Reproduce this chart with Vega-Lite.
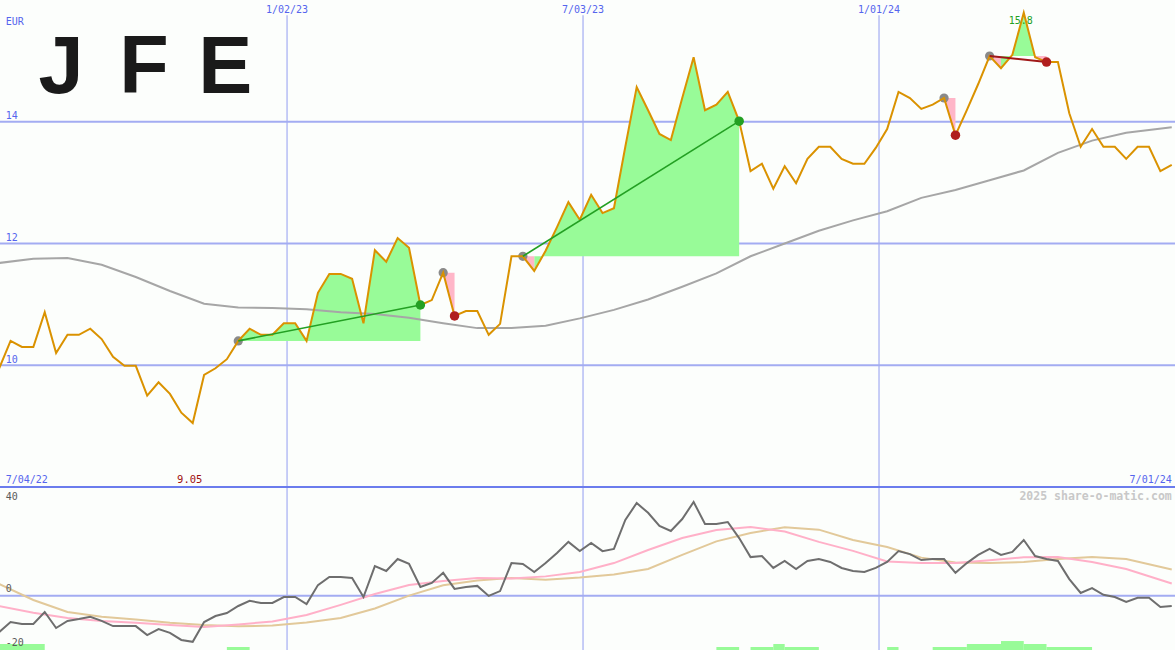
{
"$schema": "https://vega.github.io/schema/vega-lite/v6.json",
"background": "#fcfefc",
"padding": 0,
"spacing": 0,
"bounds": "flush",
"config": {"view": {"stroke": null}, "text": {"font": "DejaVu Sans Mono", "fontSize": 10}},
"datasets": {
"w": [
{"d":"2022-07-09","p":9.95,"o":-13.4},{"d":"2022-07-16","p":10.40,"o":-9.7},{"d":"2022-07-23","p":10.30,"o":-10.4},{"d":"2022-07-30","p":10.30,"o":-10.4},
{"d":"2022-08-06","p":10.87,"o":-6.0},{"d":"2022-08-13","p":10.20,"o":-11.9},{"d":"2022-08-20","p":10.50,"o":-9.3},{"d":"2022-08-27","p":10.50,"o":-8.6},
{"d":"2022-09-03","p":10.60,"o":-7.8},{"d":"2022-09-10","p":10.43,"o":-9.3},{"d":"2022-09-17","p":10.14,"o":-11.2},{"d":"2022-09-24","p":9.99,"o":-11.2},
{"d":"2022-10-01","p":9.99,"o":-11.2},{"d":"2022-10-08","p":9.50,"o":-14.5},{"d":"2022-10-15","p":9.72,"o":-12.3},{"d":"2022-10-22","p":9.53,"o":-13.7},
{"d":"2022-10-29","p":9.22,"o":-16.3},{"d":"2022-11-05","p":9.05,"o":-17.0},{"d":"2022-11-12","p":9.84,"o":-9.7},{"d":"2022-11-19","p":9.95,"o":-7.5},
{"d":"2022-11-26","p":10.10,"o":-6.4},{"d":"2022-12-03","p":10.40,"o":-3.8},{"d":"2022-12-10","p":10.60,"o":-1.9},{"d":"2022-12-17","p":10.50,"o":-2.7},
{"d":"2022-12-24","p":10.50,"o":-2.7},{"d":"2022-12-31","p":10.69,"o":-0.5},{"d":"2023-01-07","p":10.69,"o":-0.5},{"d":"2023-01-14","p":10.40,"o":-3.1},
{"d":"2023-01-21","p":11.19,"o":3.9},{"d":"2023-01-28","p":11.50,"o":6.9},{"d":"2023-02-04","p":11.50,"o":6.9},{"d":"2023-02-11","p":11.42,"o":6.5},
{"d":"2023-02-18","p":10.69,"o":-0.5},{"d":"2023-02-25","p":11.89,"o":10.9},{"d":"2023-03-04","p":11.70,"o":9.1},{"d":"2023-03-11","p":12.09,"o":13.5},
{"d":"2023-03-18","p":11.93,"o":11.7},{"d":"2023-03-25","p":10.99,"o":3.2},{"d":"2023-04-01","p":11.07,"o":4.7},{"d":"2023-04-08","p":11.52,"o":8.4},
{"d":"2023-04-15","p":10.81,"o":2.5},{"d":"2023-04-22","p":10.89,"o":3.2},{"d":"2023-04-29","p":10.89,"o":3.6},{"d":"2023-05-06","p":10.50,"o":-0.1},
{"d":"2023-05-13","p":10.68,"o":1.7},{"d":"2023-05-20","p":11.79,"o":12.0},{"d":"2023-05-27","p":11.79,"o":11.7},{"d":"2023-06-03","p":11.55,"o":8.7},
{"d":"2023-06-10","p":11.88,"o":12.0},{"d":"2023-06-17","p":12.27,"o":15.7},{"d":"2023-06-24","p":12.68,"o":19.8},{"d":"2023-07-01","p":12.39,"o":16.4},
{"d":"2023-07-08","p":12.80,"o":19.4},{"d":"2023-07-15","p":12.50,"o":16.4},{"d":"2023-07-22","p":12.58,"o":17.2},{"d":"2023-07-29","p":13.59,"o":27.9},
{"d":"2023-08-05","p":14.57,"o":34.1},{"d":"2023-08-12","p":14.19,"o":30.5},{"d":"2023-08-19","p":13.80,"o":25.7},{"d":"2023-08-26","p":13.70,"o":23.8},
{"d":"2023-09-02","p":14.39,"o":28.2},{"d":"2023-09-09","p":15.06,"o":34.5},{"d":"2023-09-16","p":14.19,"o":26.4},{"d":"2023-09-23","p":14.28,"o":26.4},
{"d":"2023-09-30","p":14.49,"o":27.1},{"d":"2023-10-07","p":14.01,"o":21.2},{"d":"2023-10-14","p":13.19,"o":14.2},{"d":"2023-10-21","p":13.31,"o":14.6},
{"d":"2023-10-28","p":12.90,"o":10.2},{"d":"2023-11-04","p":13.27,"o":12.8},{"d":"2023-11-11","p":12.99,"o":9.8},{"d":"2023-11-18","p":13.39,"o":12.8},
{"d":"2023-11-25","p":13.59,"o":13.5},{"d":"2023-12-02","p":13.59,"o":12.4},{"d":"2023-12-09","p":13.39,"o":10.2},{"d":"2023-12-16","p":13.31,"o":9.1},
{"d":"2023-12-23","p":13.31,"o":8.7},{"d":"2023-12-30","p":13.57,"o":10.2},{"d":"2024-01-06","p":13.88,"o":12.4},{"d":"2024-01-13","p":14.49,"o":16.4},
{"d":"2024-01-20","p":14.39,"o":15.3},{"d":"2024-01-27","p":14.21,"o":13.1},{"d":"2024-02-03","p":14.28,"o":13.5},{"d":"2024-02-10","p":14.39,"o":13.5},
{"d":"2024-02-17","p":13.78,"o":8.4},{"d":"2024-02-24","p":14.19,"o":12.0},{"d":"2024-03-02","p":14.62,"o":15.0},{"d":"2024-03-09","p":15.08,"o":17.2},
{"d":"2024-03-16","p":14.88,"o":15.0},{"d":"2024-03-23","p":15.10,"o":16.1},{"d":"2024-03-30","p":15.79,"o":20.5},{"d":"2024-04-06","p":15.06,"o":14.6},
{"d":"2024-04-13","p":14.98,"o":13.5},{"d":"2024-04-20","p":14.98,"o":12.8},{"d":"2024-04-27","p":14.14,"o":6.1},{"d":"2024-05-04","p":13.59,"o":1.0},
{"d":"2024-05-11","p":13.88,"o":2.8},{"d":"2024-05-18","p":13.59,"o":0.3},{"d":"2024-05-25","p":13.59,"o":-0.5},{"d":"2024-06-01","p":13.39,"o":-2.3},
{"d":"2024-06-08","p":13.59,"o":-0.8},{"d":"2024-06-15","p":13.59,"o":-0.8},{"d":"2024-06-22","p":13.19,"o":-4.2},{"d":"2024-06-29","p":13.29,"o":-3.8}
],
"ma": [
{"d":"2022-07-09","v":11.68},{"d":"2022-07-30","v":11.75},{"d":"2022-08-20","v":11.76},{"d":"2022-09-10","v":11.65},{"d":"2022-10-01","v":11.45},
{"d":"2022-10-22","v":11.22},{"d":"2022-11-12","v":11.01},{"d":"2022-12-03","v":10.95},{"d":"2022-12-24","v":10.94},{"d":"2023-01-14","v":10.92},
{"d":"2023-02-04","v":10.87},{"d":"2023-02-25","v":10.84},{"d":"2023-03-18","v":10.78},{"d":"2023-04-08","v":10.69},{"d":"2023-04-29","v":10.61},
{"d":"2023-05-20","v":10.61},{"d":"2023-06-10","v":10.65},{"d":"2023-07-01","v":10.77},{"d":"2023-07-22","v":10.91},{"d":"2023-08-12","v":11.08},
{"d":"2023-09-02","v":11.29},{"d":"2023-09-23","v":11.51},{"d":"2023-10-14","v":11.79},{"d":"2023-11-04","v":12.00},{"d":"2023-11-25","v":12.21},
{"d":"2023-12-16","v":12.38},{"d":"2024-01-06","v":12.53},{"d":"2024-01-27","v":12.75},{"d":"2024-02-17","v":12.88},{"d":"2024-03-09","v":13.04},
{"d":"2024-03-30","v":13.20},{"d":"2024-04-20","v":13.49},{"d":"2024-05-11","v":13.69},{"d":"2024-06-01","v":13.82},{"d":"2024-06-29","v":13.91}
],
"pk": [
{"d":"2022-07-09","v":-3.8},{"d":"2022-07-30","v":-6.3},{"d":"2022-08-20","v":-8.2},{"d":"2022-09-10","v":-9.3},{"d":"2022-10-01","v":-10.0},
{"d":"2022-10-22","v":-10.8},{"d":"2022-11-12","v":-11.5},{"d":"2022-12-03","v":-10.6},{"d":"2022-12-24","v":-9.5},{"d":"2023-01-14","v":-7.1},
{"d":"2023-02-04","v":-3.4},{"d":"2023-02-25","v":0.6},{"d":"2023-03-18","v":3.9},{"d":"2023-04-08","v":5.4},{"d":"2023-04-29","v":6.5},
{"d":"2023-05-20","v":6.3},{"d":"2023-06-10","v":7.1},{"d":"2023-07-01","v":8.7},{"d":"2023-07-22","v":12.0},{"d":"2023-08-12","v":16.8},
{"d":"2023-09-02","v":21.2},{"d":"2023-09-23","v":24.2},{"d":"2023-10-14","v":25.3},{"d":"2023-11-04","v":23.6},{"d":"2023-11-25","v":19.8},
{"d":"2023-12-16","v":16.5},{"d":"2024-01-06","v":12.6},{"d":"2024-01-27","v":12.0},{"d":"2024-02-17","v":12.0},{"d":"2024-03-09","v":13.0},
{"d":"2024-03-30","v":14.1},{"d":"2024-04-20","v":14.2},{"d":"2024-05-11","v":12.4},{"d":"2024-06-01","v":9.8},{"d":"2024-06-29","v":4.5}
],
"tn": [
{"d":"2022-07-09","v":4.3},{"d":"2022-07-30","v":-1.6},{"d":"2022-08-20","v":-6.0},{"d":"2022-09-10","v":-7.8},{"d":"2022-10-01","v":-8.8},
{"d":"2022-10-22","v":-10.0},{"d":"2022-11-12","v":-10.8},{"d":"2022-12-03","v":-11.3},{"d":"2022-12-24","v":-11.0},{"d":"2023-01-14","v":-9.9},
{"d":"2023-02-04","v":-8.2},{"d":"2023-02-25","v":-4.7},{"d":"2023-03-18","v":0.0},{"d":"2023-04-08","v":3.8},{"d":"2023-04-29","v":5.6},
{"d":"2023-05-20","v":6.5},{"d":"2023-06-10","v":5.9},{"d":"2023-07-01","v":6.7},{"d":"2023-07-22","v":7.8},{"d":"2023-08-12","v":9.8},
{"d":"2023-09-02","v":15.0},{"d":"2023-09-23","v":20.0},{"d":"2023-10-14","v":23.1},{"d":"2023-11-04","v":25.2},{"d":"2023-11-25","v":24.3},
{"d":"2023-12-16","v":20.5},{"d":"2024-01-06","v":17.9},{"d":"2024-01-27","v":14.0},{"d":"2024-02-17","v":12.2},{"d":"2024-03-09","v":12.0},
{"d":"2024-03-30","v":12.4},{"d":"2024-04-20","v":13.5},{"d":"2024-05-11","v":14.2},{"d":"2024-06-01","v":13.5},{"d":"2024-06-29","v":9.6}
],
"fills": [
{"g":"F1","c":"up","d":"2022-12-03","y":10.40,"b":10.40},{"g":"F1","c":"up","d":"2022-12-10","y":10.60,"b":10.40},{"g":"F1","c":"up","d":"2022-12-17","y":10.50,"b":10.40},
{"g":"F1","c":"up","d":"2022-12-24","y":10.50,"b":10.40},{"g":"F1","c":"up","d":"2022-12-31","y":10.69,"b":10.40},{"g":"F1","c":"up","d":"2023-01-07","y":10.69,"b":10.40},
{"g":"F1","c":"up","d":"2023-01-14","y":10.40,"b":10.40},{"g":"F1","c":"up","d":"2023-01-21","y":11.19,"b":10.40},{"g":"F1","c":"up","d":"2023-01-28","y":11.50,"b":10.40},
{"g":"F1","c":"up","d":"2023-02-04","y":11.50,"b":10.40},{"g":"F1","c":"up","d":"2023-02-11","y":11.42,"b":10.40},{"g":"F1","c":"up","d":"2023-02-18","y":10.69,"b":10.40},
{"g":"F1","c":"up","d":"2023-02-25","y":11.89,"b":10.40},{"g":"F1","c":"up","d":"2023-03-04","y":11.70,"b":10.40},{"g":"F1","c":"up","d":"2023-03-11","y":12.09,"b":10.40},
{"g":"F1","c":"up","d":"2023-03-18","y":11.93,"b":10.40},{"g":"F1","c":"up","d":"2023-03-25","y":10.99,"b":10.40},
{"g":"F2","c":"down","d":"2023-04-08","y":11.52,"b":11.52},{"g":"F2","c":"down","d":"2023-04-15","y":10.81,"b":11.52},
{"g":"F3a","c":"down","d":"2023-05-27","y":11.79,"b":11.79},{"g":"F3a","c":"down","d":"2023-06-03","y":11.55,"b":11.79},
{"g":"F3b","c":"up","d":"2023-06-03","y":11.55,"b":11.79},{"g":"F3b","c":"up","d":"2023-06-10","y":11.88,"b":11.79},{"g":"F3b","c":"up","d":"2023-06-17","y":12.27,"b":11.79},
{"g":"F3b","c":"up","d":"2023-06-24","y":12.68,"b":11.79},{"g":"F3b","c":"up","d":"2023-07-01","y":12.39,"b":11.79},{"g":"F3b","c":"up","d":"2023-07-08","y":12.80,"b":11.79},
{"g":"F3b","c":"up","d":"2023-07-15","y":12.50,"b":11.79},{"g":"F3b","c":"up","d":"2023-07-22","y":12.58,"b":11.79},{"g":"F3b","c":"up","d":"2023-07-29","y":13.59,"b":11.79},
{"g":"F3b","c":"up","d":"2023-08-05","y":14.57,"b":11.79},{"g":"F3b","c":"up","d":"2023-08-12","y":14.19,"b":11.79},{"g":"F3b","c":"up","d":"2023-08-19","y":13.80,"b":11.79},
{"g":"F3b","c":"up","d":"2023-08-26","y":13.70,"b":11.79},{"g":"F3b","c":"up","d":"2023-09-02","y":14.39,"b":11.79},{"g":"F3b","c":"up","d":"2023-09-09","y":15.06,"b":11.79},
{"g":"F3b","c":"up","d":"2023-09-16","y":14.19,"b":11.79},{"g":"F3b","c":"up","d":"2023-09-23","y":14.28,"b":11.79},{"g":"F3b","c":"up","d":"2023-09-30","y":14.49,"b":11.79},
{"g":"F3b","c":"up","d":"2023-10-07","y":14.01,"b":11.79},
{"g":"F4","c":"down","d":"2024-02-10","y":14.39,"b":14.39},{"g":"F4","c":"down","d":"2024-02-17","y":13.78,"b":14.39},
{"g":"F5a","c":"down","d":"2024-03-09","y":15.08,"b":15.08},{"g":"F5a","c":"down","d":"2024-03-16","y":14.88,"b":15.08},
{"g":"F5b","c":"up","d":"2024-03-16","y":14.88,"b":15.08},{"g":"F5b","c":"up","d":"2024-03-23","y":15.10,"b":15.08},{"g":"F5b","c":"up","d":"2024-03-30","y":15.79,"b":15.08},
{"g":"F5b","c":"up","d":"2024-04-06","y":15.06,"b":15.08},
{"g":"F5c","c":"down","d":"2024-04-06","y":15.06,"b":15.08},{"g":"F5c","c":"down","d":"2024-04-13","y":14.98,"b":15.08}
],
"trend": [
{"g":"T1","c":"up","d":"2022-12-03","v":10.40},{"g":"T1","c":"up","d":"2023-03-25","v":10.99},
{"g":"T3","c":"up","d":"2023-05-27","v":11.79},{"g":"T3","c":"up","d":"2023-10-07","v":14.01},
{"g":"T5","c":"down","d":"2024-03-09","v":15.08},{"g":"T5","c":"down","d":"2024-04-13","v":14.98}
],
"dots": [
{"k":"start","d":"2022-12-03","v":10.40},{"k":"start","d":"2023-04-08","v":11.52},{"k":"start","d":"2023-05-27","v":11.79},
{"k":"start","d":"2024-02-10","v":14.39},{"k":"start","d":"2024-03-09","v":15.08},
{"k":"up","d":"2023-03-25","v":10.99},{"k":"up","d":"2023-10-07","v":14.01},
{"k":"down","d":"2023-04-15","v":10.81},{"k":"down","d":"2024-02-17","v":13.78},{"k":"down","d":"2024-04-13","v":14.98}
],
"vol": [
{"d":"2022-07-09","d2":"2022-08-06","h":-17.8},{"d":"2022-11-26","d2":"2022-12-10","h":-18.9},
{"d":"2023-09-23","d2":"2023-10-07","h":-18.9},{"d":"2023-10-14","d2":"2023-10-28","h":-18.9},
{"d":"2023-10-28","d2":"2023-11-04","h":-17.8},{"d":"2023-11-04","d2":"2023-11-25","h":-18.9},
{"d":"2024-01-06","d2":"2024-01-13","h":-18.9},{"d":"2024-02-03","d2":"2024-02-24","h":-18.9},
{"d":"2024-02-24","d2":"2024-03-16","h":-17.8},{"d":"2024-03-16","d2":"2024-03-30","h":-16.7},
{"d":"2024-03-30","d2":"2024-04-13","h":-17.8},{"d":"2024-04-13","d2":"2024-05-11","h":-18.9}
],
"hg": [{"v":10},{"v":12},{"v":14}],
"vg": [{"d":"2023-01-02","lab":"1/02/23"},{"d":"2023-07-03","lab":"7/03/23"},{"d":"2024-01-01","lab":"1/01/24"}],
"one": [{"n":1}]
},
"vconcat": [
{
"width": 1175, "height": 487,
"layer": [
{"data":{"name":"hg"},"mark":{"type":"rule","color":"#a3acf2","strokeWidth":2,"clip":true},
 "encoding":{"y":{"field":"v","type":"quantitative","scale":{"domain":[8,16],"nice":false,"zero":false},"axis":null}}},
{"data":{"name":"vg"},"mark":{"type":"rule","color":"#a3acf2","strokeWidth":1.2,"clip":true},
 "encoding":{"x":{"field":"d","type":"temporal","scale":{"type":"utc","domain":[{"year":2022,"month":7,"date":9,"hours":12,"utc":true},{"year":2024,"month":7,"date":1,"utc":true}]},"axis":null},
  "y":{"datum":15.75,"type":"quantitative","scale":{"domain":[8,16],"nice":false,"zero":false},"axis":null},"y2":{"datum":8}}},
{"data":{"name":"fills"},"transform":[{"filter":"datum.c === 'up'"}],"mark":{"type":"area","color":"#98fb98","opacity":1,"clip":true},
 "encoding":{"x":{"field":"d","type":"temporal","scale":{"type":"utc","domain":[{"year":2022,"month":7,"date":9,"hours":12,"utc":true},{"year":2024,"month":7,"date":1,"utc":true}]},"axis":null},
  "y":{"field":"y","type":"quantitative","scale":{"domain":[8,16],"nice":false,"zero":false},"axis":null},"y2":{"field":"b"},"detail":{"field":"g"}}},
{"data":{"name":"fills"},"transform":[{"filter":"datum.c === 'down'"}],"mark":{"type":"area","color":"#ffb6c8","opacity":1,"clip":true},
 "encoding":{"x":{"field":"d","type":"temporal","scale":{"type":"utc","domain":[{"year":2022,"month":7,"date":9,"hours":12,"utc":true},{"year":2024,"month":7,"date":1,"utc":true}]},"axis":null},
  "y":{"field":"y","type":"quantitative","scale":{"domain":[8,16],"nice":false,"zero":false},"axis":null},"y2":{"field":"b"},"detail":{"field":"g"}}},
{"data":{"name":"ma"},"mark":{"type":"line","color":"#a6a6a6","strokeWidth":2,"clip":true},
 "encoding":{"x":{"field":"d","type":"temporal","scale":{"type":"utc","domain":[{"year":2022,"month":7,"date":9,"hours":12,"utc":true},{"year":2024,"month":7,"date":1,"utc":true}]},"axis":null},
  "y":{"field":"v","type":"quantitative","scale":{"domain":[8,16],"nice":false,"zero":false},"axis":null}}},
{"data":{"name":"dots"},"transform":[{"filter":"datum.k === 'start'"}],"mark":{"type":"circle","color":"#8a8a8a","size":85,"opacity":1,"clip":true},
 "encoding":{"x":{"field":"d","type":"temporal","scale":{"type":"utc","domain":[{"year":2022,"month":7,"date":9,"hours":12,"utc":true},{"year":2024,"month":7,"date":1,"utc":true}]},"axis":null},
  "y":{"field":"v","type":"quantitative","scale":{"domain":[8,16],"nice":false,"zero":false},"axis":null}}},
{"data":{"name":"w"},"mark":{"type":"line","color":"#da9200","strokeWidth":2,"clip":true},
 "encoding":{"x":{"field":"d","type":"temporal","scale":{"type":"utc","domain":[{"year":2022,"month":7,"date":9,"hours":12,"utc":true},{"year":2024,"month":7,"date":1,"utc":true}]},"axis":null},
  "y":{"field":"p","type":"quantitative","scale":{"domain":[8,16],"nice":false,"zero":false},"axis":null}}},
{"data":{"name":"trend"},"transform":[{"filter":"datum.c === 'up'"}],"mark":{"type":"line","color":"#23a023","strokeWidth":1.6,"clip":true},
 "encoding":{"x":{"field":"d","type":"temporal","scale":{"type":"utc","domain":[{"year":2022,"month":7,"date":9,"hours":12,"utc":true},{"year":2024,"month":7,"date":1,"utc":true}]},"axis":null},
  "y":{"field":"v","type":"quantitative","scale":{"domain":[8,16],"nice":false,"zero":false},"axis":null},"detail":{"field":"g"}}},
{"data":{"name":"trend"},"transform":[{"filter":"datum.c === 'down'"}],"mark":{"type":"line","color":"#a01818","strokeWidth":2,"clip":true},
 "encoding":{"x":{"field":"d","type":"temporal","scale":{"type":"utc","domain":[{"year":2022,"month":7,"date":9,"hours":12,"utc":true},{"year":2024,"month":7,"date":1,"utc":true}]},"axis":null},
  "y":{"field":"v","type":"quantitative","scale":{"domain":[8,16],"nice":false,"zero":false},"axis":null},"detail":{"field":"g"}}},
{"data":{"name":"dots"},"transform":[{"filter":"datum.k === 'up'"}],"mark":{"type":"circle","color":"#23a023","size":90,"opacity":1,"clip":true},
 "encoding":{"x":{"field":"d","type":"temporal","scale":{"type":"utc","domain":[{"year":2022,"month":7,"date":9,"hours":12,"utc":true},{"year":2024,"month":7,"date":1,"utc":true}]},"axis":null},
  "y":{"field":"v","type":"quantitative","scale":{"domain":[8,16],"nice":false,"zero":false},"axis":null}}},
{"data":{"name":"dots"},"transform":[{"filter":"datum.k === 'down'"}],"mark":{"type":"circle","color":"#b01e1e","size":90,"opacity":1,"clip":true},
 "encoding":{"x":{"field":"d","type":"temporal","scale":{"type":"utc","domain":[{"year":2022,"month":7,"date":9,"hours":12,"utc":true},{"year":2024,"month":7,"date":1,"utc":true}]},"axis":null},
  "y":{"field":"v","type":"quantitative","scale":{"domain":[8,16],"nice":false,"zero":false},"axis":null}}},
{"data":{"name":"one"},"mark":{"type":"rule","color":"#6b7ced","strokeWidth":2.2,"clip":true},
 "encoding":{"y":{"datum":8,"type":"quantitative","scale":{"domain":[8,16],"nice":false,"zero":false},"axis":null}}},
{"data":{"name":"hg"},"mark":{"type":"text","align":"left","baseline":"alphabetic","dy":-2.5,"color":"#5565ee"},
 "encoding":{"x":{"datum":{"year":2022,"month":7,"date":13,"utc":true},"type":"temporal","scale":{"type":"utc","domain":[{"year":2022,"month":7,"date":9,"hours":12,"utc":true},{"year":2024,"month":7,"date":1,"utc":true}]},"axis":null},
  "y":{"field":"v","type":"quantitative","scale":{"domain":[8,16],"nice":false,"zero":false},"axis":null},"text":{"field":"v","type":"quantitative"}}},
{"data":{"name":"vg"},"mark":{"type":"text","align":"center","baseline":"alphabetic","dy":13,"color":"#5565ee"},
 "encoding":{"x":{"field":"d","type":"temporal","scale":{"type":"utc","domain":[{"year":2022,"month":7,"date":9,"hours":12,"utc":true},{"year":2024,"month":7,"date":1,"utc":true}]},"axis":null},
  "y":{"datum":16,"type":"quantitative","scale":{"domain":[8,16],"nice":false,"zero":false},"axis":null},"text":{"field":"lab"}}},
{"data":{"name":"one"},"mark":{"type":"text","text":"EUR","align":"left","baseline":"alphabetic","dy":25,"color":"#5565ee"},
 "encoding":{"x":{"datum":{"year":2022,"month":7,"date":13,"utc":true},"type":"temporal","scale":{"type":"utc","domain":[{"year":2022,"month":7,"date":9,"hours":12,"utc":true},{"year":2024,"month":7,"date":1,"utc":true}]},"axis":null},
  "y":{"datum":16,"type":"quantitative","scale":{"domain":[8,16],"nice":false,"zero":false},"axis":null}}},
{"data":{"name":"one"},"mark":{"type":"text","text":"7/04/22","align":"left","baseline":"alphabetic","dy":-4,"color":"#5565ee"},
 "encoding":{"x":{"datum":{"year":2022,"month":7,"date":13,"utc":true},"type":"temporal","scale":{"type":"utc","domain":[{"year":2022,"month":7,"date":9,"hours":12,"utc":true},{"year":2024,"month":7,"date":1,"utc":true}]},"axis":null},
  "y":{"datum":8,"type":"quantitative","scale":{"domain":[8,16],"nice":false,"zero":false},"axis":null}}},
{"data":{"name":"one"},"mark":{"type":"text","text":"7/01/24","align":"right","baseline":"alphabetic","dy":-4,"color":"#5565ee"},
 "encoding":{"x":{"datum":{"year":2024,"month":6,"date":29,"utc":true},"type":"temporal","scale":{"type":"utc","domain":[{"year":2022,"month":7,"date":9,"hours":12,"utc":true},{"year":2024,"month":7,"date":1,"utc":true}]},"axis":null},
  "y":{"datum":8,"type":"quantitative","scale":{"domain":[8,16],"nice":false,"zero":false},"axis":null}}},
{"data":{"name":"w"},"transform":[{"filter":"datum.p < 9.1"}],"mark":{"type":"text","align":"center","baseline":"alphabetic","dy":-4,"dx":-3,"color":"#a01010","fontSize":10.5},
 "encoding":{"x":{"field":"d","type":"temporal","scale":{"type":"utc","domain":[{"year":2022,"month":7,"date":9,"hours":12,"utc":true},{"year":2024,"month":7,"date":1,"utc":true}]},"axis":null},
  "y":{"datum":8,"type":"quantitative","scale":{"domain":[8,16],"nice":false,"zero":false},"axis":null},"text":{"field":"p","type":"quantitative","format":".3r"}}},
{"data":{"name":"w"},"transform":[{"filter":"datum.p > 15.5"}],"mark":{"type":"text","align":"center","baseline":"alphabetic","dy":24,"dx":-3,"color":"#22a022","fontSize":10},
 "encoding":{"x":{"field":"d","type":"temporal","scale":{"type":"utc","domain":[{"year":2022,"month":7,"date":9,"hours":12,"utc":true},{"year":2024,"month":7,"date":1,"utc":true}]},"axis":null},
  "y":{"datum":16,"type":"quantitative","scale":{"domain":[8,16],"nice":false,"zero":false},"axis":null},"text":{"field":"p","type":"quantitative","format":".3r"}}},
{"data":{"name":"one"},"mark":{"type":"text","text":"J","align":"center","baseline":"alphabetic","dy":93,"color":"#1a1a1a","font":"Liberation Sans","fontWeight":"bold","fontSize":81},
 "encoding":{"x":{"datum":{"year":2022,"month":8,"date":16,"utc":true},"type":"temporal","scale":{"type":"utc","domain":[{"year":2022,"month":7,"date":9,"hours":12,"utc":true},{"year":2024,"month":7,"date":1,"utc":true}]},"axis":null},
  "y":{"datum":16,"type":"quantitative","scale":{"domain":[8,16],"nice":false,"zero":false},"axis":null}}},
{"data":{"name":"one"},"mark":{"type":"text","text":"F","align":"center","baseline":"alphabetic","dy":93,"color":"#1a1a1a","font":"Liberation Sans","fontWeight":"bold","fontSize":81},
 "encoding":{"x":{"datum":{"year":2022,"month":10,"date":6,"utc":true},"type":"temporal","scale":{"type":"utc","domain":[{"year":2022,"month":7,"date":9,"hours":12,"utc":true},{"year":2024,"month":7,"date":1,"utc":true}]},"axis":null},
  "y":{"datum":16,"type":"quantitative","scale":{"domain":[8,16],"nice":false,"zero":false},"axis":null}}},
{"data":{"name":"one"},"mark":{"type":"text","text":"E","align":"center","baseline":"alphabetic","dy":93,"color":"#1a1a1a","font":"Liberation Sans","fontWeight":"bold","fontSize":81},
 "encoding":{"x":{"datum":{"year":2022,"month":11,"date":25,"utc":true},"type":"temporal","scale":{"type":"utc","domain":[{"year":2022,"month":7,"date":9,"hours":12,"utc":true},{"year":2024,"month":7,"date":1,"utc":true}]},"axis":null},
  "y":{"datum":16,"type":"quantitative","scale":{"domain":[8,16],"nice":false,"zero":false},"axis":null}}}
]
},
{
"width": 1175, "height": 163,
"layer": [
{"data":{"name":"one"},"mark":{"type":"rule","color":"#a3acf2","strokeWidth":2,"clip":true},
 "encoding":{"y":{"datum":0,"type":"quantitative","scale":{"domain":[-20,40],"nice":false,"zero":false},"axis":null}}},
{"data":{"name":"vg"},"mark":{"type":"rule","color":"#a3acf2","strokeWidth":1.2,"clip":true},
 "encoding":{"x":{"field":"d","type":"temporal","scale":{"type":"utc","domain":[{"year":2022,"month":7,"date":9,"hours":12,"utc":true},{"year":2024,"month":7,"date":1,"utc":true}]},"axis":null}}},
{"data":{"name":"vol"},"mark":{"type":"bar","color":"#98fb98","clip":true},
 "encoding":{"x":{"field":"d","type":"temporal","scale":{"type":"utc","domain":[{"year":2022,"month":7,"date":9,"hours":12,"utc":true},{"year":2024,"month":7,"date":1,"utc":true}]},"axis":null},
  "x2":{"field":"d2"},
  "y":{"field":"h","type":"quantitative","scale":{"domain":[-20,40],"nice":false,"zero":false},"axis":null},"y2":{"datum":-20}}},
{"data":{"name":"tn"},"mark":{"type":"line","color":"#e2c99a","strokeWidth":2,"clip":true},
 "encoding":{"x":{"field":"d","type":"temporal","scale":{"type":"utc","domain":[{"year":2022,"month":7,"date":9,"hours":12,"utc":true},{"year":2024,"month":7,"date":1,"utc":true}]},"axis":null},
  "y":{"field":"v","type":"quantitative","scale":{"domain":[-20,40],"nice":false,"zero":false},"axis":null}}},
{"data":{"name":"pk"},"mark":{"type":"line","color":"#ffb0c8","strokeWidth":2,"clip":true},
 "encoding":{"x":{"field":"d","type":"temporal","scale":{"type":"utc","domain":[{"year":2022,"month":7,"date":9,"hours":12,"utc":true},{"year":2024,"month":7,"date":1,"utc":true}]},"axis":null},
  "y":{"field":"v","type":"quantitative","scale":{"domain":[-20,40],"nice":false,"zero":false},"axis":null}}},
{"data":{"name":"w"},"mark":{"type":"line","color":"#6e6e6e","strokeWidth":2,"clip":true},
 "encoding":{"x":{"field":"d","type":"temporal","scale":{"type":"utc","domain":[{"year":2022,"month":7,"date":9,"hours":12,"utc":true},{"year":2024,"month":7,"date":1,"utc":true}]},"axis":null},
  "y":{"field":"o","type":"quantitative","scale":{"domain":[-20,40],"nice":false,"zero":false},"axis":null}}},
{"data":{"name":"one"},"mark":{"type":"rule","color":"#6b7ced","strokeWidth":2.2,"clip":true},
 "encoding":{"y":{"datum":40,"type":"quantitative","scale":{"domain":[-20,40],"nice":false,"zero":false},"axis":null}}},
{"data":{"name":"one"},"mark":{"type":"text","text":"40","align":"left","baseline":"alphabetic","dy":12.5,"color":"#5a5a5a"},
 "encoding":{"x":{"datum":{"year":2022,"month":7,"date":13,"utc":true},"type":"temporal","scale":{"type":"utc","domain":[{"year":2022,"month":7,"date":9,"hours":12,"utc":true},{"year":2024,"month":7,"date":1,"utc":true}]},"axis":null},
  "y":{"datum":40,"type":"quantitative","scale":{"domain":[-20,40],"nice":false,"zero":false},"axis":null}}},
{"data":{"name":"one"},"mark":{"type":"text","text":"0","align":"left","baseline":"alphabetic","dy":-4,"color":"#5a5a5a"},
 "encoding":{"x":{"datum":{"year":2022,"month":7,"date":13,"utc":true},"type":"temporal","scale":{"type":"utc","domain":[{"year":2022,"month":7,"date":9,"hours":12,"utc":true},{"year":2024,"month":7,"date":1,"utc":true}]},"axis":null},
  "y":{"datum":0,"type":"quantitative","scale":{"domain":[-20,40],"nice":false,"zero":false},"axis":null}}},
{"data":{"name":"one"},"mark":{"type":"text","text":"-20","align":"left","baseline":"alphabetic","dy":-4.3,"color":"#5a5a5a"},
 "encoding":{"x":{"datum":{"year":2022,"month":7,"date":13,"utc":true},"type":"temporal","scale":{"type":"utc","domain":[{"year":2022,"month":7,"date":9,"hours":12,"utc":true},{"year":2024,"month":7,"date":1,"utc":true}]},"axis":null},
  "y":{"datum":-20,"type":"quantitative","scale":{"domain":[-20,40],"nice":false,"zero":false},"axis":null}}},
{"data":{"name":"one"},"mark":{"type":"text","text":"2025 share-o-matic.com","align":"right","baseline":"alphabetic","dy":13,"color":"#c8c8c8","fontSize":11.5,"fontWeight":"bold"},
 "encoding":{"x":{"datum":{"year":2024,"month":6,"date":29,"utc":true},"type":"temporal","scale":{"type":"utc","domain":[{"year":2022,"month":7,"date":9,"hours":12,"utc":true},{"year":2024,"month":7,"date":1,"utc":true}]},"axis":null},
  "y":{"datum":40,"type":"quantitative","scale":{"domain":[-20,40],"nice":false,"zero":false},"axis":null}}}
]
}
]
}
